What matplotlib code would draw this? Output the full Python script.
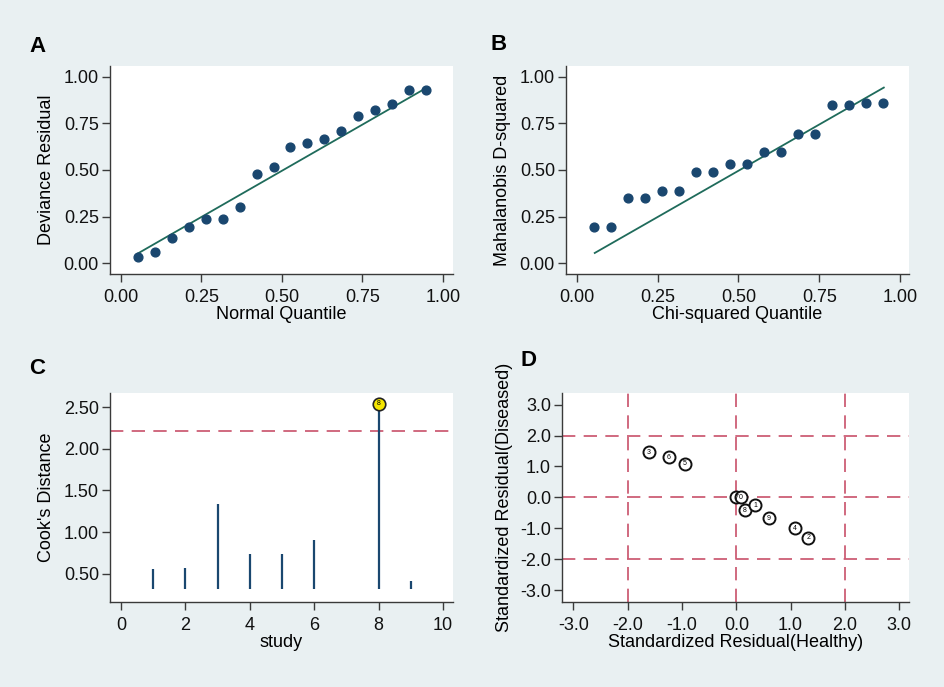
import matplotlib
matplotlib.use('Agg')
import matplotlib.pyplot as plt
import numpy as np
from matplotlib.ticker import FormatStrFormatter

plt.rcParams['font.family'] = ['Liberation Sans', 'DejaVu Sans']

BG = '#e9f0f2'
NAVY = '#1a476f'
GREEN = '#1f6b5b'
RED = '#c8506a'
AXCOL = '#3a3a3a'
FS = 13

# Panel A: deviance residual vs normal quantile
a_quantile = [i / 19 for i in range(1, 19)]
a_resid = [0.034, 0.06, 0.134, 0.195, 0.238, 0.238, 0.30, 0.48, 0.514,
           0.624, 0.647, 0.665, 0.71, 0.792, 0.823, 0.855, 0.93, 0.93]
a_line_x = [0.053, 0.947]
a_line_y = [0.052, 0.94]

# Panel B: Mahalanobis D-squared vs chi-squared quantile
b_quantile = [i / 19 for i in range(1, 19)]
b_dsq = [0.193, 0.193, 0.352, 0.352, 0.389, 0.389, 0.489, 0.489, 0.530,
         0.530, 0.596, 0.596, 0.693, 0.693, 0.85, 0.85, 0.8625, 0.8625]
b_line_x = [0.055, 0.95]
b_line_y = [0.054, 0.943]

# Panel C: Cook's distance per study
c_study = [1, 2, 3, 4, 5, 6, 8, 9]
c_cooks = [0.56, 0.57, 1.34, 0.74, 0.74, 0.91, 2.54, 0.42]
c_base = 0.32
c_threshold = 2.21
c_flag = 8

# Panel D: standardized residuals
d_healthy = [-1.61, -1.24, -0.945, 0.0, 0.08, 0.16, 0.35, 0.595, 1.08, 1.325]
d_diseased = [1.46, 1.30, 1.09, 0.0, 0.0, -0.42, -0.25, -0.67, -1.0, -1.31]
d_labels = ['3', '6', '5', '7', '0', '8', '1', '9', '4', '2']
d_refs = [-2, 0, 2]


def style_axes(ax):
    ax.set_facecolor('white')
    for s in ('top', 'right'):
        ax.spines[s].set_visible(False)
    for s in ('left', 'bottom'):
        ax.spines[s].set_color(AXCOL)
        ax.spines[s].set_linewidth(1.0)
    ax.tick_params(direction='out', length=6, width=1, color=AXCOL,
                   labelsize=FS, labelcolor='#111111')
    ax.tick_params(axis='x', pad=5)
    ax.tick_params(axis='y', pad=2)


fig = plt.figure(figsize=(9.45, 6.87), dpi=100)
fig.patch.set_facecolor(BG)

W, H = 945, 687


def add_ax(left, top, right, bottom):
    return fig.add_axes([left / W, 1 - bottom / H, (right - left) / W, (bottom - top) / H])


# A
ax = add_ax(110, 66, 453, 274)
style_axes(ax)
ax.plot(a_line_x, a_line_y, color=GREEN, lw=1.3, zorder=2)
ax.scatter(a_quantile, a_resid, s=40, color=NAVY, zorder=3)
ax.set_xlim(-0.034, 1.031)
ax.set_ylim(-0.059, 1.059)
ax.set_xticks([0, 0.25, 0.5, 0.75, 1.0])
ax.set_yticks([0, 0.25, 0.5, 0.75, 1.0])
ax.xaxis.set_major_formatter(FormatStrFormatter('%.2f'))
ax.yaxis.set_major_formatter(FormatStrFormatter('%.2f'))
ax.set_xlabel('Normal Quantile', fontsize=FS, labelpad=0)
ax.set_ylabel('Deviance Residual', fontsize=FS, labelpad=6)
fig.text(38 / W, 1 - 46 / H, 'A', fontsize=16, fontweight='bold', ha='center', va='center')

# B
ax = add_ax(566, 66, 909, 274)
style_axes(ax)
ax.plot(b_line_x, b_line_y, color=GREEN, lw=1.3, zorder=2)
ax.scatter(b_quantile, b_dsq, s=40, color=NAVY, zorder=3)
ax.set_xlim(-0.034, 1.028)
ax.set_ylim(-0.059, 1.059)
ax.set_xticks([0, 0.25, 0.5, 0.75, 1.0])
ax.set_yticks([0, 0.25, 0.5, 0.75, 1.0])
ax.xaxis.set_major_formatter(FormatStrFormatter('%.2f'))
ax.yaxis.set_major_formatter(FormatStrFormatter('%.2f'))
ax.set_xlabel('Chi-squared Quantile', fontsize=FS, labelpad=0)
ax.set_ylabel('Mahalanobis D-squared', fontsize=FS, labelpad=6)
fig.text(499 / W, 1 - 45 / H, 'B', fontsize=16, fontweight='bold', ha='center', va='center')

# C
ax = add_ax(110, 393, 453, 602)
style_axes(ax)
ax.vlines(c_study, c_base, c_cooks, color=NAVY, lw=1.6, zorder=2)
ax.axhline(c_threshold, color=RED, lw=1.2, dashes=(8, 5), zorder=1)
flag_y = c_cooks[c_study.index(c_flag)]
ax.plot([c_flag], [flag_y], 'o', ms=9, mfc='#f5e600', mec='#222222', mew=1.2, zorder=4)
ax.text(c_flag, flag_y, str(c_flag), fontsize=5, ha='center', va='center', zorder=5)
ax.set_xlim(-0.34, 10.31)
ax.set_ylim(0.164, 2.668)
ax.set_xticks(range(0, 11, 2))
ax.set_yticks([0.5, 1.0, 1.5, 2.0, 2.5])
ax.yaxis.set_major_formatter(FormatStrFormatter('%.2f'))
ax.set_xlabel('study', fontsize=FS, labelpad=0)
ax.set_ylabel("Cook's Distance", fontsize=FS, labelpad=6)
fig.text(37 / W, 1 - 369 / H, 'C', fontsize=16, fontweight='bold', ha='center', va='center')

# D
ax = add_ax(562, 393, 909, 602)
style_axes(ax)
for r in d_refs:
    ax.axvline(r, color=RED, lw=1.2, dashes=(8, 5), zorder=1)
    ax.axhline(r, color=RED, lw=1.2, dashes=(8, 5), zorder=1)
ax.scatter(d_healthy, d_diseased, s=75, facecolors='white', edgecolors='#111111',
           linewidths=1.4, zorder=3)
for x, y, lab in zip(d_healthy, d_diseased, d_labels):
    ax.text(x, y, lab, fontsize=5, ha='center', va='center', zorder=4)
ax.set_xlim(-3.21, 3.18)
ax.set_ylim(-3.38, 3.375)
ax.set_xticks(np.arange(-3, 4, 1))
ax.set_yticks(np.arange(-3, 4, 1))
ax.xaxis.set_major_formatter(FormatStrFormatter('%.1f'))
ax.yaxis.set_major_formatter(FormatStrFormatter('%.1f'))
ax.set_xlabel('Standardized Residual(Healthy)', fontsize=FS, labelpad=0)
ax.set_ylabel('Standardized Residual(Diseased)', fontsize=FS, labelpad=5)
fig.text(528 / W, 1 - 361 / H, 'D', fontsize=16, fontweight='bold', ha='center', va='center')

fig.savefig('out.png', dpi=100, facecolor=BG)
